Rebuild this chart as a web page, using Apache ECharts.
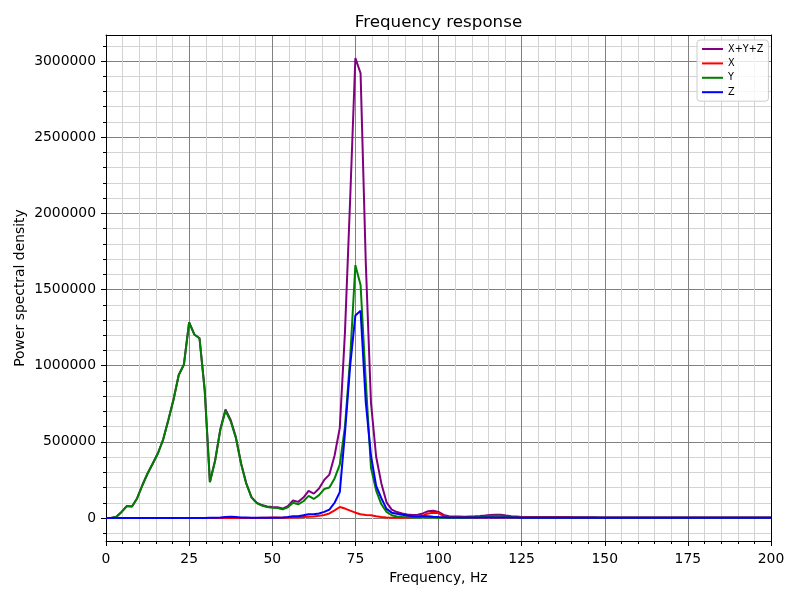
<!DOCTYPE html>
<html>
<head>
<meta charset="utf-8">
<script src="https://cdn.jsdelivr.net/npm/echarts@6/dist/echarts.min.js"></script>
<style>
  html, body { margin: 0; padding: 0; background: #fff; }
  #chart { width: 800px; height: 600px; }
</style>
</head>
<body>
<div id="chart"></div>
<script>
// frequency bins, Hz
var freqs = [
  0, 1.5625, 3.125, 4.6875, 6.25, 7.8125, 9.375, 10.9375, 12.5, 14.0625,
  15.625, 17.1875, 18.75, 20.3125, 21.875, 23.4375, 25, 26.5625, 28.125, 29.6875,
  31.25, 32.8125, 34.375, 35.9375, 37.5, 39.0625, 40.625, 42.1875, 43.75, 45.3125,
  46.875, 48.4375, 50, 51.5625, 53.125, 54.6875, 56.25, 57.8125, 59.375, 60.9375,
  62.5, 64.0625, 65.625, 67.1875, 68.75, 70.3125, 71.875, 73.4375, 75, 76.5625,
  78.125, 79.6875, 81.25, 82.8125, 84.375, 85.9375, 87.5, 89.0625, 90.625, 92.1875,
  93.75, 95.3125, 96.875, 98.4375, 100, 101.5625, 103.125, 104.6875, 106.25, 107.8125,
  109.375, 110.9375, 112.5, 114.0625, 115.625, 117.1875, 118.75, 120.3125, 121.875, 123.4375,
  125, 126.5625, 128.125, 129.6875, 131.25, 132.8125, 134.375, 135.9375, 137.5, 139.0625,
  140.625, 142.1875, 143.75, 145.3125, 146.875, 148.4375, 150, 151.5625, 153.125, 154.6875,
  156.25, 157.8125, 159.375, 160.9375, 162.5, 164.0625, 165.625, 167.1875, 168.75, 170.3125,
  171.875, 173.4375, 175, 176.5625, 178.125, 179.6875, 181.25, 182.8125, 184.375, 185.9375,
  187.5, 189.0625, 190.625, 192.1875, 193.75, 195.3125, 196.875, 198.4375, 200
];

// X+Y+Z
var psdSum = [
  0, 0, 8000, 40000, 78000, 76000, 130000, 215000, 292000, 358000,
  425000, 515000, 643000, 778000, 939000, 1008000, 1285000, 1205000, 1180000, 840000,
  236000, 377000, 582000, 712000, 643000, 531000, 359000, 228000, 137000, 100000,
  85000, 76000, 73000, 71000, 62000, 78000, 115000, 106000, 134000, 178000,
  160000, 194000, 250000, 285000, 410000, 592000, 1222000, 2098000, 3020000, 2920000,
  1680000, 758000, 402000, 227000, 103000, 55000, 39000, 29000, 23000, 19000,
  21000, 30000, 45000, 48000, 40000, 20000, 12000, 10000, 10000, 9000,
  10000, 11000, 13000, 16000, 20000, 22000, 21000, 16000, 12000, 10000,
  7000, 7000, 7000, 7000, 7000, 7000, 7000, 6000, 6000, 6000,
  5000, 5000, 5000, 5000, 5000, 4000, 4000, 4000, 4000, 4000,
  4000, 4000, 4000, 4000, 4000, 4000, 4000, 4000, 4000, 4000,
  4000, 4000, 4000, 4000, 4000, 4000, 4000, 4000, 4000, 4000,
  4000, 4000, 4000, 4000, 4000, 4000, 4000, 4000, 4000
];

// X
var psdX = [
  0, 0, 0, 0, 0, 0, 0, 0, 0, 0,
  0, 0, 0, 0, 0, 0, 0, 0, 0, 0,
  0, 0, 0, 0, 0, 0, 0, 0, 0, 0,
  1000, 2000, 3000, 3000, 2000, 2000, 3000, 4000, 6000, 8000,
  10000, 14000, 20000, 30000, 50000, 72000, 62000, 48000, 35000, 25000,
  20000, 18000, 12000, 7000, 3000, 2000, 1000, 1000, 2000, 3000,
  8000, 15000, 30000, 35000, 32000, 12000, 6000, 5000, 5000, 4000,
  4000, 4000, 4000, 4000, 4000, 4000, 4000, 4000, 4000, 4000,
  3000, 3000, 3000, 3000, 3000, 3000, 3000, 3000, 3000, 3000,
  2000, 2000, 2000, 2000, 2000, 2000, 2000, 2000, 2000, 2000,
  2000, 2000, 2000, 2000, 2000, 2000, 2000, 2000, 2000, 2000,
  2000, 2000, 2000, 2000, 2000, 2000, 2000, 2000, 2000, 2000,
  2000, 2000, 2000, 2000, 2000, 2000, 2000, 2000, 2000
];

// Y
var psdY = [
  0, 0, 8000, 40000, 78000, 76000, 130000, 215000, 292000, 358000,
  425000, 515000, 643000, 778000, 939000, 1008000, 1285000, 1205000, 1180000, 840000,
  235000, 375000, 578000, 705000, 635000, 525000, 355000, 225000, 135000, 98000,
  82000, 72000, 68000, 66000, 57000, 70000, 100000, 90000, 110000, 145000,
  125000, 150000, 190000, 200000, 260000, 350000, 600000, 1050000, 1660000, 1530000,
  900000, 330000, 180000, 90000, 40000, 18000, 10000, 6000, 5000, 4000,
  3000, 3000, 3000, 3000, 2000, 2000, 2000, 2000, 2000, 2000,
  3000, 4000, 6000, 9000, 13000, 15000, 14000, 9000, 5000, 3000,
  2000, 2000, 2000, 2000, 2000, 2000, 2000, 2000, 2000, 2000,
  2000, 2000, 2000, 2000, 2000, 1000, 1000, 1000, 1000, 1000,
  1000, 1000, 1000, 1000, 1000, 1000, 1000, 1000, 1000, 1000,
  1000, 1000, 1000, 1000, 1000, 1000, 1000, 1000, 1000, 1000,
  1000, 1000, 1000, 1000, 1000, 1000, 1000, 1000, 1000
];

// Z
var psdZ = [
  0, 0, 0, 0, 0, 0, 0, 0, 0, 0,
  0, 0, 0, 0, 0, 0, 0, 0, 0, 0,
  1000, 2000, 4000, 7000, 8000, 6000, 4000, 3000, 2000, 2000,
  2000, 2000, 2000, 2000, 3000, 6000, 12000, 12000, 18000, 25000,
  25000, 30000, 40000, 55000, 100000, 170000, 560000, 1000000, 1330000, 1360000,
  760000, 410000, 210000, 130000, 60000, 35000, 28000, 22000, 16000, 12000,
  10000, 12000, 12000, 8000, 6000, 5000, 4000, 3000, 3000, 3000,
  3000, 3000, 3000, 3000, 3000, 3000, 3000, 3000, 3000, 3000,
  2000, 2000, 2000, 2000, 2000, 2000, 2000, 2000, 2000, 2000,
  2000, 2000, 2000, 2000, 2000, 2000, 2000, 2000, 2000, 2000,
  2000, 2000, 2000, 2000, 2000, 2000, 2000, 2000, 2000, 2000,
  2000, 2000, 2000, 2000, 2000, 2000, 2000, 2000, 2000, 2000,
  2000, 2000, 2000, 2000, 2000, 2000, 2000, 2000, 2000
];

var seriesNames = ['X+Y+Z', 'X', 'Y', 'Z'];
var seriesColors = ['#800080', '#ff0000', '#008000', '#0000ff'];
var seriesValues = [psdSum, psdX, psdY, psdZ];
var yTicks = [0, 500000, 1000000, 1500000, 2000000, 2500000, 3000000];

var font = 'DejaVu Sans';
var ink = '#000000';

function pairs(values) {
  return freqs.map(function (f, i) { return [f, values[i]]; });
}

var chart = echarts.init(document.getElementById('chart'), null, { renderer: 'canvas' });

// only the frame line of an axis (top / right spines)
function spine(pos, min, max) {
  return {
    type: 'value', position: pos, min: min, max: max,
    axisLine: { show: true, onZero: false, lineStyle: { color: ink, width: 1 } },
    axisTick: { show: false }, axisLabel: { show: false },
    splitLine: { show: false }
  };
}

chart.setOption({
  animation: false,
  backgroundColor: '#ffffff',
  title: {
    text: 'Frequency response',
    left: 438.5, top: 14, textAlign: 'center', padding: 0,
    textStyle: { fontFamily: font, fontSize: 16.7, fontWeight: 'normal', color: ink }
  },
  legend: {
    data: seriesNames,
    orient: 'vertical',
    left: 697, top: 40,
    padding: [4, 5, 4, 4],
    itemWidth: 21, itemHeight: 10, itemGap: 4.4,
    itemStyle: { opacity: 0 },
    backgroundColor: 'rgba(255,255,255,0.8)',
    borderColor: '#cccccc', borderWidth: 1, borderRadius: 3,
    textStyle: { fontFamily: font, fontSize: 9.7, color: ink }
  },
  grid: { left: 106, right: 29, top: 35, bottom: 59 },
  xAxis: [{
    type: 'value', min: 0, max: 200, interval: 25,
    name: 'Frequency, Hz', nameLocation: 'middle', nameGap: 30,
    nameTextStyle: { fontFamily: font, fontSize: 13.9, color: ink },
    axisLine: { onZero: false, lineStyle: { color: ink, width: 1 } },
    axisTick: { length: 5, lineStyle: { color: ink } },
    minorTick: { show: true, splitNumber: 5, length: 3, lineStyle: { color: ink } },
    axisLabel: { margin: 11, fontFamily: font, fontSize: 13.9, color: ink },
    splitLine: { show: true, lineStyle: { color: '#808080', width: 1 } },
    minorSplitLine: { show: true, lineStyle: { color: '#d3d3d3', width: 1 } }
  }, spine('top', 0, 200)],
  yAxis: [{
    type: 'value', min: -151000, max: 3171000,
    splitNumber: 5, minInterval: 500000, maxInterval: 500000,
    name: 'Power spectral density', nameLocation: 'middle', nameGap: 79,
    nameMoveOverlap: false,
    nameTextStyle: { fontFamily: font, fontSize: 13.9, color: ink },
    axisLine: { onZero: false, lineStyle: { color: ink, width: 1 } },
    axisTick: { length: 5, customValues: yTicks, lineStyle: { color: ink } },
    minorTick: { show: true, splitNumber: 5, length: 3, lineStyle: { color: ink } },
    axisLabel: {
      margin: 10, fontFamily: font, fontSize: 13.9, color: ink,
      customValues: yTicks,
      formatter: function (v) { return String(v); }
    },
    splitLine: { show: true, lineStyle: { color: '#808080', width: 1 } },
    minorSplitLine: { show: true, lineStyle: { color: '#d3d3d3', width: 1 } }
  }, spine('right', -151000, 3171000)],
  series: seriesNames.map(function (name, k) {
    return {
      name: name,
      type: 'line',
      data: pairs(seriesValues[k]),
      symbol: 'none',
      clip: true,
      lineStyle: { color: seriesColors[k], width: 2 },
      itemStyle: { color: seriesColors[k] }
    };
  })
});
</script>
</body>
</html>
